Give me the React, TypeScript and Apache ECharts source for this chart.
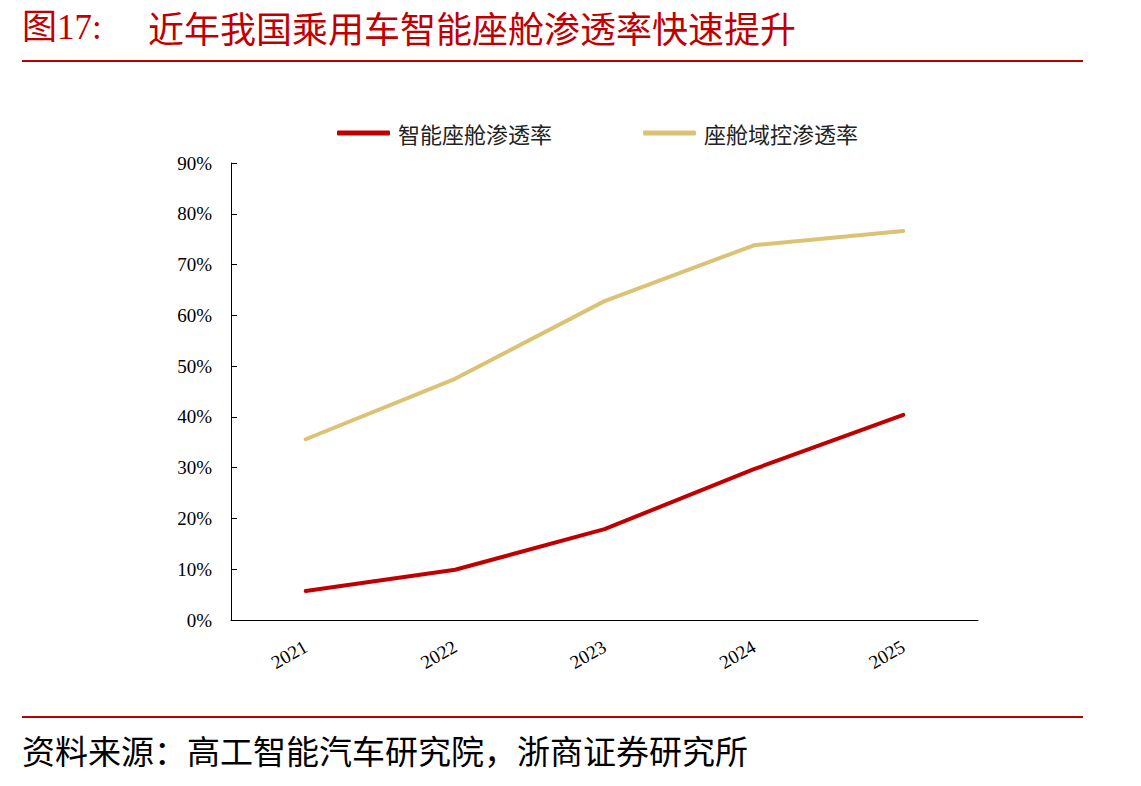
import React, { useEffect, useRef } from "react";
import * as echarts from "echarts";

const years = ["2021", "2022", "2023", "2024", "2025"];
const cockpitRate = [5.7, 9.9, 17.9, 29.7, 40.4];
const domainRate = [35.6, 47.5, 62.8, 73.8, 76.6];
const seriesNames = ["智能座舱渗透率", "座舱域控渗透率"];
const titleNo = "图17:";
const titleText = "近年我国乘用车智能座舱渗透率快速提升";
const sourceText = "资料来源：高工智能汽车研究院，浙商证券研究所";

const RED = "#C00000";
const GOLD = "#DCC274";
const CJK = "'Noto Sans CJK SC', sans-serif";
const SERIF = "'Liberation Serif', 'Noto Sans CJK SC', serif";

export default function App() {
  const ref = useRef<HTMLDivElement>(null);
  useEffect(() => {
    if (!ref.current) return;
    const chart = echarts.init(ref.current, undefined, { renderer: "svg" });
    chart.setOption({
      animation: false,
      backgroundColor: "#ffffff",
      graphic: [
        {
          type: "text",
          left: 22,
          top: 10,
          style: { text: titleNo, fill: RED, font: `35px ${SERIF}` },
        },
        {
          type: "text",
          left: 148,
          top: 9,
          style: { text: titleText, fill: RED, font: `36px ${CJK}` },
        },
        {
          type: "rect",
          shape: { x: 22, y: 60, width: 1061, height: 2 },
          style: { fill: RED },
        },
        {
          type: "rect",
          shape: { x: 22, y: 716, width: 1061, height: 2 },
          style: { fill: RED },
        },
        {
          type: "text",
          left: 22,
          top: 733,
          style: { text: sourceText, fill: "#000", font: `33px ${CJK}` },
        },
      ],
      legend: {
        left: 337,
        top: 122,
        padding: 0,
        itemWidth: 53,
        itemHeight: 5,
        itemGap: 91,
        icon: "roundRect",
        data: seriesNames,
        textStyle: { fontFamily: CJK, fontSize: 22, color: "#222", padding: [0, 0, 0, 3] },
      },
      grid: { left: 231, right: 163, top: 163, bottom: 166, containLabel: false },
      xAxis: {
        type: "category",
        data: years,
        boundaryGap: true,
        axisLine: { lineStyle: { color: "#000", width: 1 } },
        axisTick: { inside: true, length: 6, lineStyle: { color: "#000" }, alignWithLabel: false },
        axisLabel: {
          rotate: 30,
          margin: 25,
          fontFamily: SERIF,
          fontSize: 19,
          color: "#000",
        },
      },
      yAxis: {
        type: "value",
        min: 0,
        max: 90,
        interval: 10,
        axisLine: { show: true, lineStyle: { color: "#000", width: 1 } },
        axisTick: { show: true, inside: true, length: 6, lineStyle: { color: "#000" } },
        splitLine: { show: false },
        axisLabel: {
          formatter: "{value}%",
          margin: 19,
          fontFamily: SERIF,
          fontSize: 19,
          color: "#000",
        },
      },
      series: [
        {
          name: seriesNames[0],
          type: "line",
          data: cockpitRate,
          symbol: "none",
          lineStyle: { color: RED, width: 4, cap: "round" },
          itemStyle: { color: RED },
        },
        {
          name: seriesNames[1],
          type: "line",
          data: domainRate,
          symbol: "none",
          lineStyle: { color: GOLD, width: 4, cap: "round" },
          itemStyle: { color: GOLD },
        },
      ],
    });
    return () => chart.dispose();
  }, []);
  return (
    <div
      ref={ref}
      style={{ position: "fixed", left: 0, top: 0, width: 1141, height: 786, background: "#fff" }}
    />
  );
}
